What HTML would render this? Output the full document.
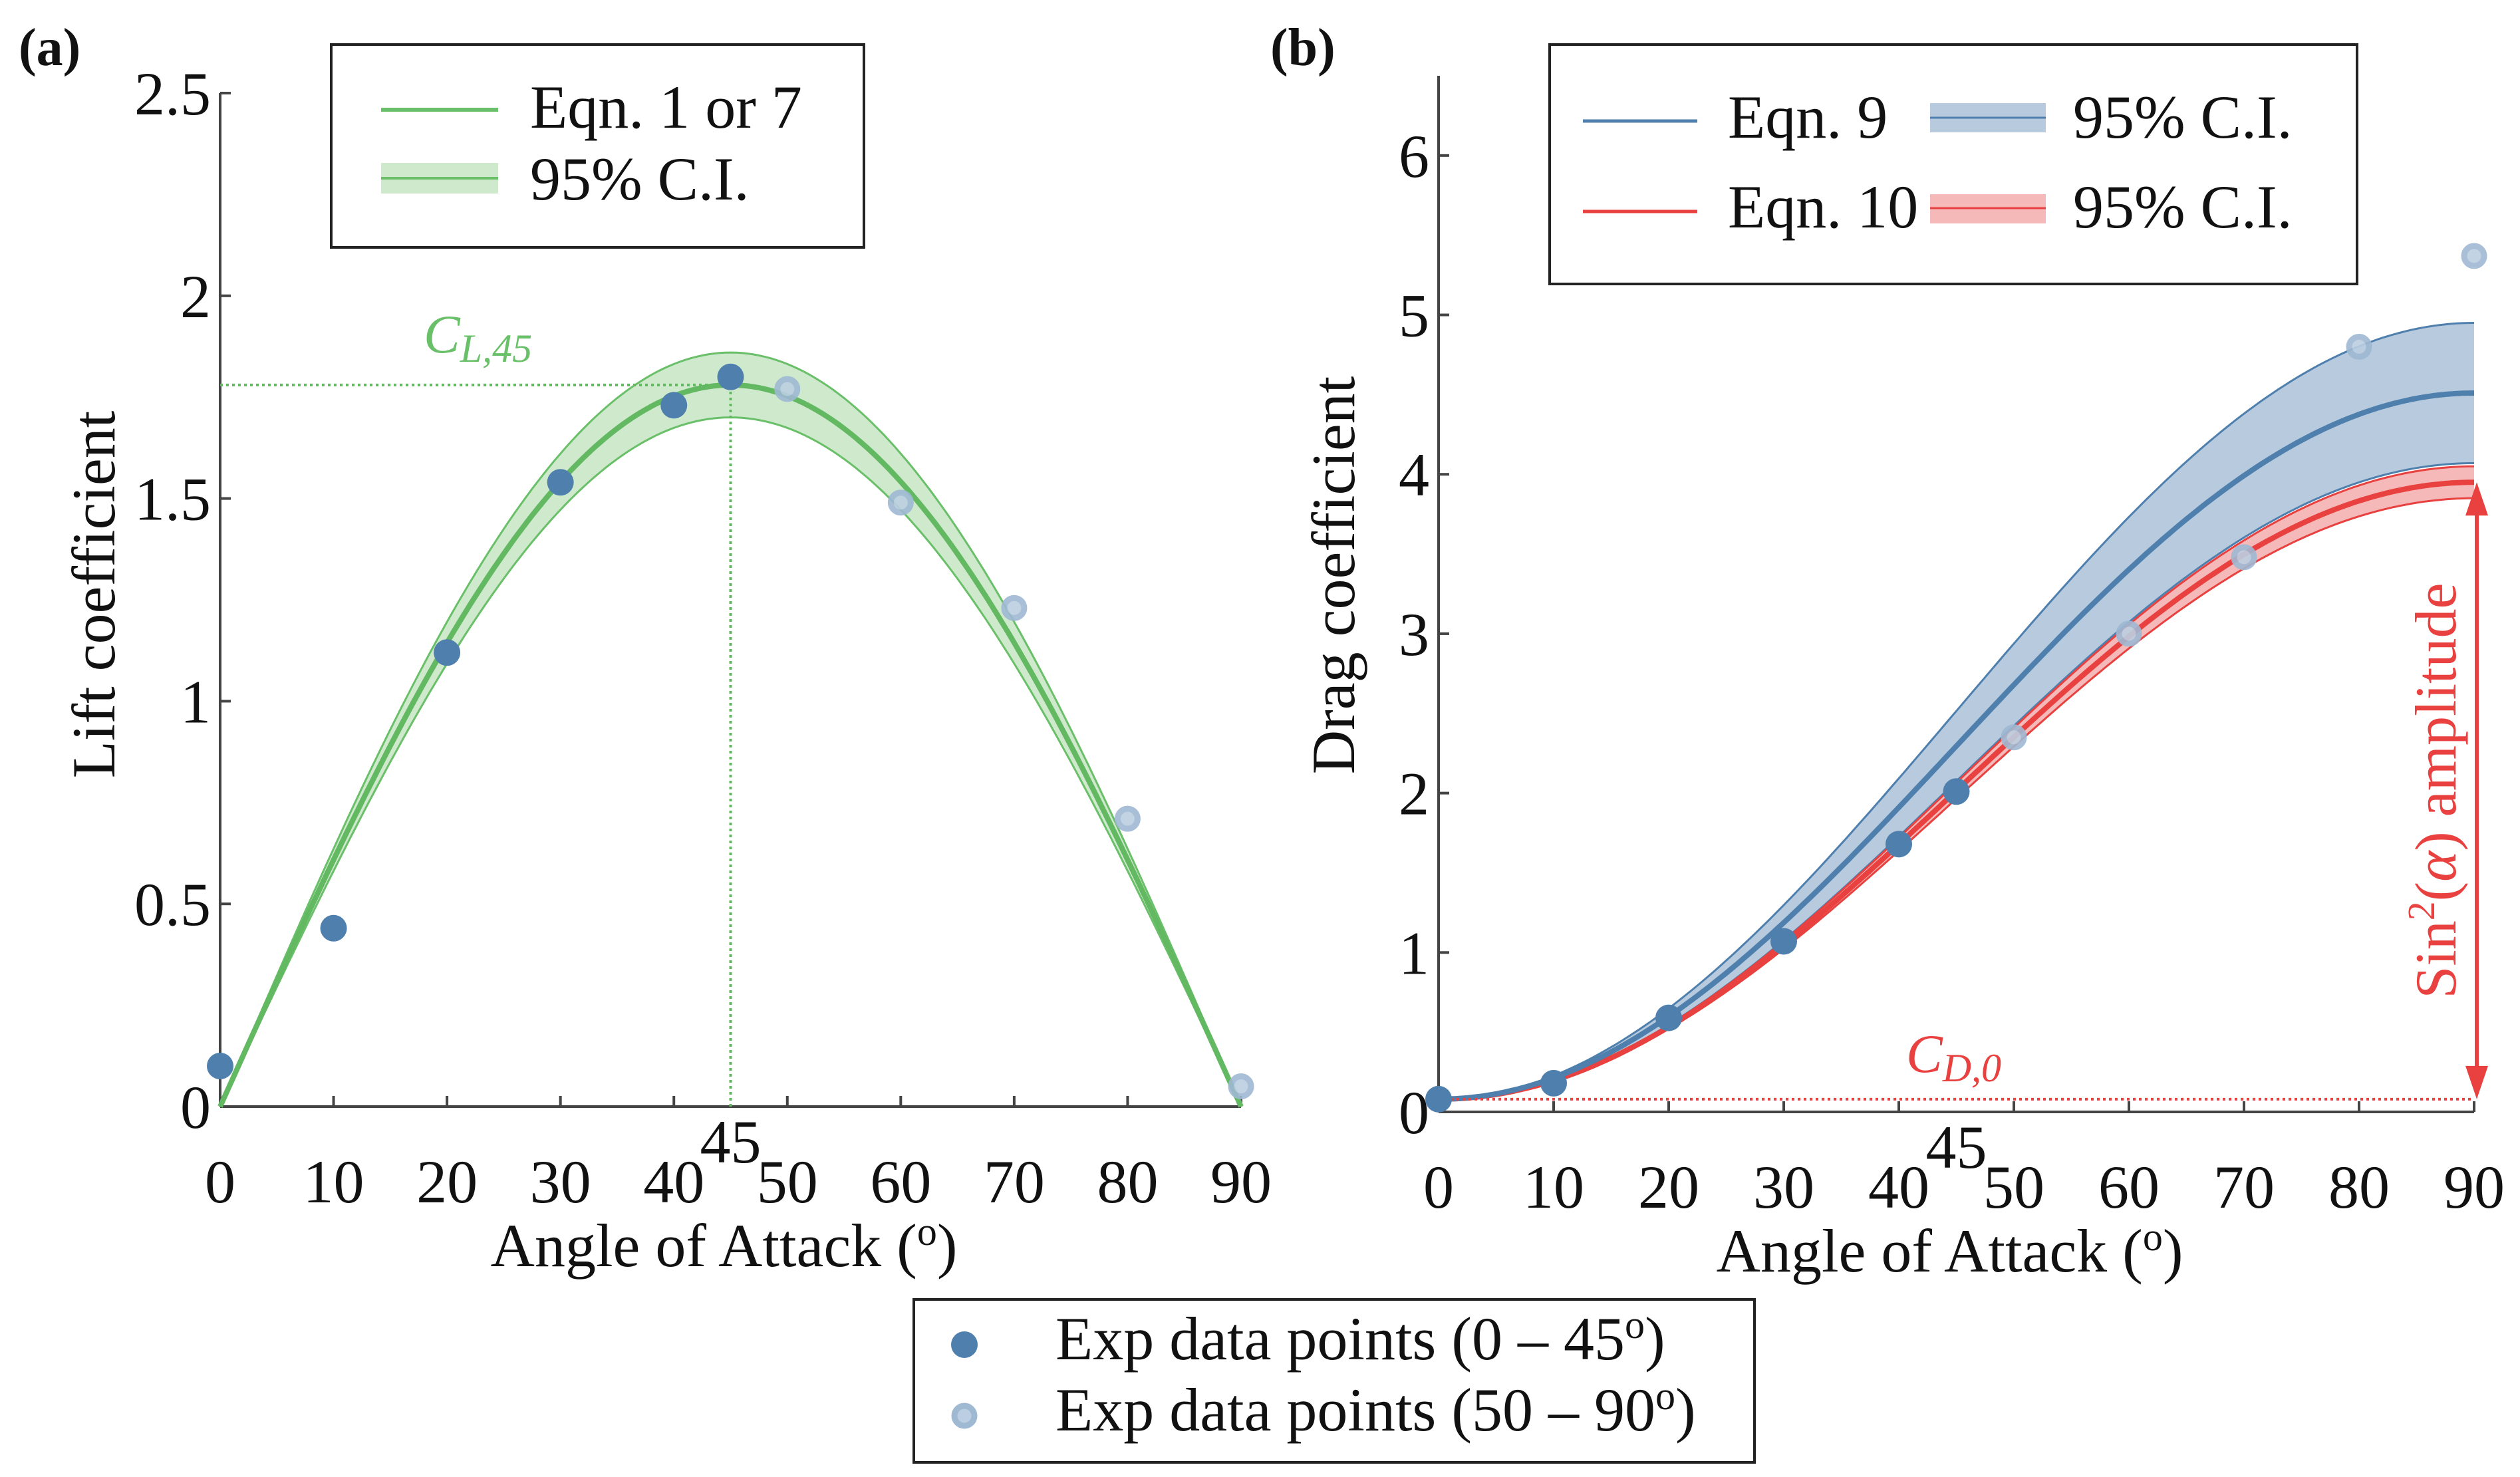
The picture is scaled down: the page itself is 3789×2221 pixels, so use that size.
<!DOCTYPE html>
<html><head><meta charset="utf-8">
<style>
html,body{margin:0;padding:0;background:#fff;}
svg{display:block;font-family:"Liberation Serif",serif;}
</style></head>
<body>
<svg id="fig" width="3789" height="2221" viewBox="0 0 3789 2221" xmlns="http://www.w3.org/2000/svg">
<g id="pa"></g>
<g id="pb"></g>
<g id="leg"></g>
</svg>
<script>
// ---------- data ----------
const xTicks = [0,10,20,30,40,50,60,70,80,90];
const liftTicks = [0,0.5,1,1.5,2,2.5];
const liftTickLabels = ["0","0.5","1","1.5","2","2.5"];
const dragTicks = [0,1,2,3,4,5,6];
const dragTickLabels = ["0","1","2","3","4","5","6"];
const angles1 = [0,10,20,30,40,45];
const lift1 = [0.10,0.44,1.12,1.54,1.73,1.80];
const angles2 = [50,60,70,80,90];
const lift2 = [1.77,1.49,1.23,0.71,0.05];
const drag1 = [0.08,0.18,0.59,1.07,1.68,2.01];
const drag2 = [2.35,3.00,3.48,4.80,5.37];
// fitted model parameters [mean, lower CI, upper CI]
const liftAmp = [1.78,1.70,1.86];
const dragCD0 = [0.08];
const eq9Amp = [4.43,3.99,4.87];
const eq10Amp = [3.87,3.77,3.97];

const NS="http://www.w3.org/2000/svg";
function mk(parent,tag,attrs,text){const e=document.createElementNS(NS,tag);for(const k in attrs)e.setAttribute(k,attrs[k]);if(text!==undefined)e.textContent=text;parent.appendChild(e);return e;}
const rad=d=>d*Math.PI/180;
const sampleX=[];for(let a=0;a<=90;a+=0.5)sampleX.push(a);
const FS=92;

function panel(g,opt){
  const X=v=>opt.x0+(opt.x1-opt.x0)*v/90;
  const Y=v=>opt.y0-(opt.y0-opt.yTop)*v/opt.yMax;
  const ax=mk(g,'line',{x1:opt.x0,y1:opt.y0,x2:opt.x1,y2:opt.y0,stroke:'#444','stroke-width':4});
  
  const ay=mk(g,'line',{x1:opt.x0,y1:opt.y0,x2:opt.x0,y2:Y(opt.yMax),stroke:'#444','stroke-width':4});
  
  xTicks.forEach(t=>{
    mk(g,'line',{x1:X(t),y1:opt.y0,x2:X(t),y2:opt.y0-16,stroke:'#444','stroke-width':4});
    const tl=mk(g,'text',{x:X(t),y:opt.y0+144,'font-size':FS,'text-anchor':'middle',fill:'#111'},String(t));
    
  });
  const t45=mk(g,'text',{x:X(45),y:opt.y0+84,'font-size':FS,'text-anchor':'middle',fill:'#111'},'45');
  
  opt.yTicks.forEach((t,i)=>{
    mk(g,'line',{x1:opt.x0,y1:Y(t),x2:opt.x0+16,y2:Y(t),stroke:'#444','stroke-width':4});
    const yl=mk(g,'text',{x:opt.x0-14,y:Y(t)+32,'font-size':FS,'text-anchor':'end',fill:'#111'},opt.yLabels[i]);
    
  });
  const xt=mk(g,'text',{x:(opt.x0+opt.x1)/2-10,y:opt.y0+240,'font-size':FS,'text-anchor':'middle',fill:'#111'});
  xt.innerHTML='Angle of Attack (<tspan dy="-32" font-size="60">o</tspan><tspan dy="32">)</tspan>';
  
  const yt=mk(g,'text',{x:opt.ylx,y:opt.yly,'font-size':FS,'text-anchor':'middle',fill:'#111',transform:`rotate(-90 ${opt.ylx} ${opt.yly})`},opt.ytitle);
  
  const pl=mk(g,'text',{x:opt.plx,y:98,'font-size':80,'font-weight':'bold',fill:'#111'},opt.plabel);
  
  return {X,Y};
}
function linePath(X,Y,f){return sampleX.map((a,i)=>(i?'L':'M')+X(a).toFixed(1)+' '+Y(f(a)).toFixed(1)).join(' ');}
function bandPath(X,Y,fl,fu){
  const up=sampleX.map((a,i)=>(i?'L':'M')+X(a).toFixed(1)+' '+Y(fu(a)).toFixed(1)).join(' ');
  const lo=sampleX.slice().reverse().map(a=>'L'+X(a).toFixed(1)+' '+Y(fl(a)).toFixed(1)).join(' ');
  return up+' '+lo+' Z';
}
function dots(g,X,Y,xs,ys,light,name){
  xs.forEach((a,i)=>{
    const c=light?mk(g,'circle',{cx:X(a),cy:Y(ys[i]),r:15,fill:'#bccfe2',stroke:'#9fb9d3','stroke-width':9,opacity:0.9})
                 :mk(g,'circle',{cx:X(a),cy:Y(ys[i]),r:20,fill:'#4f80ad'});
    
  });
}

// ---------- panel a ----------
const ga=document.getElementById('pa');
const A=panel(ga,{x0:331,x1:1866,y0:1664,yTop:140,yMax:2.5,yTicks:liftTicks,yLabels:liftTickLabels,ytitle:'Lift coefficient',ylx:172,yly:894,plx:28,plabel:'(a)'});
const liftF=k=>a=>liftAmp[k]*Math.sin(2*rad(a));
const ba=mk(ga,'path',{d:bandPath(A.X,A.Y,liftF(1),liftF(2)),fill:'#cfe9cd',stroke:'none'});

[1,2].forEach(k=>{const p=mk(ga,'path',{d:linePath(A.X,A.Y,liftF(k)),fill:'none',stroke:'#6abf69','stroke-width':3});
  });
const la=mk(ga,'path',{d:linePath(A.X,A.Y,liftF(0)),fill:'none',stroke:'#63b862','stroke-width':8});

const hd=mk(ga,'line',{x1:A.X(0),y1:A.Y(liftAmp[0]),x2:A.X(45),y2:A.Y(liftAmp[0]),stroke:'#63b862','stroke-width':4,'stroke-dasharray':'4 5'});

const vd=mk(ga,'line',{x1:A.X(45),y1:A.Y(0),x2:A.X(45),y2:A.Y(liftAmp[0]),stroke:'#63b862','stroke-width':4,'stroke-dasharray':'4 5'});

const cl=mk(ga,'text',{x:637,y:530,'font-size':82,'font-style':'italic',fill:'#6abf69'});
cl.innerHTML='C<tspan dy="14" font-size="60">L,45</tspan>';

dots(ga,A.X,A.Y,angles2,lift2,true,'lift-point-high');
dots(ga,A.X,A.Y,angles1,lift1,false,'lift-point-low');
const lga=mk(ga,'g',{});
mk(lga,'rect',{x:498,y:67,width:801,height:305,fill:'#fff',stroke:'#222','stroke-width':4});
mk(lga,'line',{x1:573,y1:165,x2:749,y2:165,stroke:'#6abf69','stroke-width':6});
mk(lga,'text',{x:797,y:192,'font-size':FS,fill:'#111'},'Eqn. 1 or 7');
mk(lga,'rect',{x:573,y:245,width:176,height:46,fill:'#cfe9cd'});
mk(lga,'line',{x1:573,y1:268,x2:749,y2:268,stroke:'#6abf69','stroke-width':4});
mk(lga,'text',{x:797,y:300,'font-size':FS,fill:'#111'},'95% C.I.');

// ---------- panel b ----------
const gb=document.getElementById('pb');
const B=panel(gb,{x0:2163,x1:3720,y0:1672,yTop:114,yMax:6.5,yTicks:dragTicks,yLabels:dragTickLabels,ytitle:'Drag coefficient',ylx:2036,yly:865,plx:1910,plabel:'(b)'});
const dF=(amp,k)=>a=>dragCD0[0]+amp[k]*Math.pow(Math.sin(rad(a)),2);
const bb=mk(gb,'path',{d:bandPath(B.X,B.Y,dF(eq9Amp,1),dF(eq9Amp,2)),fill:'#b7cade',stroke:'none'});

[1,2].forEach(k=>{const p=mk(gb,'path',{d:linePath(B.X,B.Y,dF(eq9Amp,k)),fill:'none',stroke:'#4f80ad','stroke-width':3});
  });
const rb=mk(gb,'path',{d:bandPath(B.X,B.Y,dF(eq10Amp,1),dF(eq10Amp,2)),fill:'#f5b9b9',stroke:'none'});

[1,2].forEach(k=>{const p=mk(gb,'path',{d:linePath(B.X,B.Y,dF(eq10Amp,k)),fill:'none',stroke:'#e8413f','stroke-width':3});
  });
const l10=mk(gb,'path',{d:linePath(B.X,B.Y,dF(eq10Amp,0)),fill:'none',stroke:'#e8413f','stroke-width':8});

const l9=mk(gb,'path',{d:linePath(B.X,B.Y,dF(eq9Amp,0)),fill:'none',stroke:'#4f80ad','stroke-width':8});

const cd=mk(gb,'line',{x1:B.X(0),y1:B.Y(dragCD0[0]),x2:B.X(90),y2:B.Y(dragCD0[0]),stroke:'#e8413f','stroke-width':4,'stroke-dasharray':'4 5'});

const cdt=mk(gb,'text',{x:2866,y:1612,'font-size':82,'font-style':'italic',fill:'#e8413f'});
cdt.innerHTML='C<tspan dy="14" font-size="60">D,0</tspan>';

const ya=B.Y(dragCD0[0]+eq10Amp[0]), yb=B.Y(dragCD0[0]), xa=B.X(90)+4;
const arr=mk(gb,'g',{});
mk(arr,'line',{x1:xa,y1:ya+10,x2:xa,y2:yb-10,stroke:'#e8413f','stroke-width':6});
mk(arr,'path',{d:`M${xa} ${ya} L${xa-17} ${ya+50} L${xa+17} ${ya+50} Z`,fill:'#e8413f'});
mk(arr,'path',{d:`M${xa} ${yb} L${xa-17} ${yb-50} L${xa+17} ${yb-50} Z`,fill:'#e8413f'});
const amp=mk(gb,'text',{x:3692,y:(ya+yb)/2,'font-size':88,fill:'#e8413f','text-anchor':'middle',transform:`rotate(-90 3692 ${(ya+yb)/2})`});
amp.innerHTML='Sin<tspan dy="-32" font-size="58">2</tspan><tspan dy="32">(</tspan><tspan font-style="italic">α</tspan>) amplitude';

dots(gb,B.X,B.Y,angles2,drag2,true,'drag-point-high');
dots(gb,B.X,B.Y,angles1,drag1,false,'drag-point-low');
const lgb=mk(gb,'g',{});
mk(lgb,'rect',{x:2330,y:67,width:1214,height:360,fill:'#fff',stroke:'#222','stroke-width':4});
mk(lgb,'line',{x1:2380,y1:182,x2:2552,y2:182,stroke:'#4f80ad','stroke-width':5});
mk(lgb,'text',{x:2598,y:207,'font-size':FS,fill:'#111'},'Eqn. 9');
mk(lgb,'rect',{x:2902,y:155,width:174,height:44,fill:'#b7cade'});
mk(lgb,'line',{x1:2902,y1:177,x2:3076,y2:177,stroke:'#4f80ad','stroke-width':3});
mk(lgb,'text',{x:3117,y:207,'font-size':FS,fill:'#111'},'95% C.I.');
mk(lgb,'line',{x1:2380,y1:318,x2:2552,y2:318,stroke:'#e8413f','stroke-width':5});
mk(lgb,'text',{x:2598,y:342,'font-size':FS,fill:'#111'},'Eqn. 10');
mk(lgb,'rect',{x:2902,y:292,width:174,height:44,fill:'#f5b9b9'});
mk(lgb,'line',{x1:2902,y1:313,x2:3076,y2:313,stroke:'#e8413f','stroke-width':3});
mk(lgb,'text',{x:3117,y:342,'font-size':FS,fill:'#111'},'95% C.I.');

// ---------- bottom legend ----------
const lg=document.getElementById('leg');
mk(lg,'rect',{x:1374,y:1954,width:1264,height:245,fill:'#fff',stroke:'#222','stroke-width':4});
const m1=mk(lg,'circle',{cx:1450,cy:2022,r:20,fill:'#4f80ad'});

const m2=mk(lg,'circle',{cx:1450,cy:2129,r:15,fill:'#bccfe2',stroke:'#9fb9d3','stroke-width':9});

const t1=mk(lg,'text',{x:1587,y:2044,'font-size':92,fill:'#111'});
t1.innerHTML='Exp data points (0 – 45<tspan dy="-32" font-size="60">o</tspan><tspan dy="32">)</tspan>';

const t2=mk(lg,'text',{x:1587,y:2151,'font-size':92,fill:'#111'});
t2.innerHTML='Exp data points (50 – 90<tspan dy="-32" font-size="60">o</tspan><tspan dy="32">)</tspan>';

</script>
</body></html>
